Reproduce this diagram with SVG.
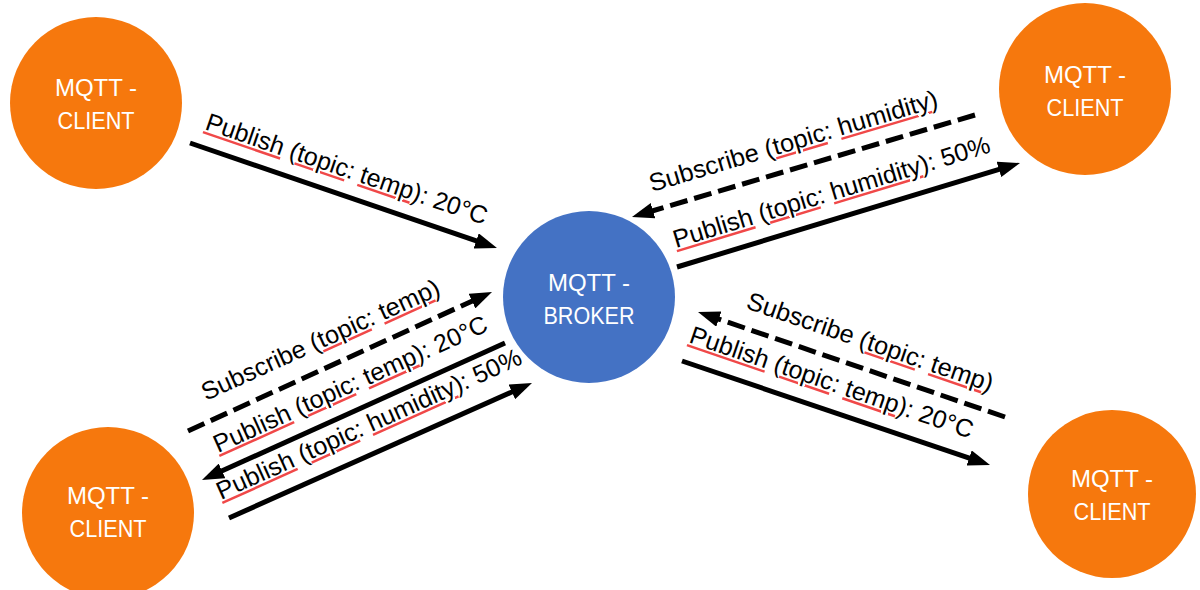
<svg xmlns="http://www.w3.org/2000/svg" width="1200" height="590" viewBox="0 0 1200 590">
<style>
.client{fill:#F6780D}
.broker{fill:#4472C4}
.nt{font-family:"Liberation Sans",Arial,sans-serif;font-size:24px;fill:#fff;text-anchor:middle}
.lb{font-family:"Liberation Sans",Arial,sans-serif;font-size:25px;fill:#000}
.sq{text-decoration:underline wavy;text-decoration-thickness:1px;fill:#F04848}
.sq tspan{fill:#000}
.ln{stroke:#000;stroke-width:5;fill:none;marker-end:url(#ah)}
.dash{stroke-dasharray:18 7}
</style>
<defs>
<marker id="ah" markerUnits="userSpaceOnUse" markerWidth="22" markerHeight="16" refX="1" refY="8" orient="auto" viewBox="0 0 22 16">
<path d="M0,0 L22,8 L0,16 z" fill="#000"/>
</marker>
</defs>
<rect width="1200" height="590" fill="#fff"/>
<g id="client-tl">
<circle class="client" cx="96" cy="103" r="86"/>
<text class="nt" x="96" y="96">MQTT -</text>
<text class="nt" x="96" y="129" textLength="77" lengthAdjust="spacingAndGlyphs">CLIENT</text>
</g>
<g id="client-tr">
<circle class="client" cx="1085" cy="89" r="86"/>
<text class="nt" x="1085" y="83">MQTT -</text>
<text class="nt" x="1085" y="116" textLength="77" lengthAdjust="spacingAndGlyphs">CLIENT</text>
</g>
<g id="broker">
<circle class="broker" cx="589" cy="297" r="86"/>
<text class="nt" x="589" y="291">MQTT -</text>
<text class="nt" x="589" y="324" textLength="91" lengthAdjust="spacingAndGlyphs">BROKER</text>
</g>
<g id="client-bl">
<circle class="client" cx="108" cy="513" r="86"/>
<text class="nt" x="108" y="504">MQTT -</text>
<text class="nt" x="108" y="537" textLength="77" lengthAdjust="spacingAndGlyphs">CLIENT</text>
</g>
<g id="client-br">
<circle class="client" cx="1112" cy="494" r="84"/>
<text class="nt" x="1112" y="487">MQTT -</text>
<text class="nt" x="1112" y="520" textLength="77" lengthAdjust="spacingAndGlyphs">CLIENT</text>
</g>
<g id="connectors">
<line class="ln" x1="190" y1="143" x2="477.1" y2="241.2"/>
<line class="ln dash" x1="975" y1="115" x2="652.1" y2="211"/>
<line class="ln" x1="677" y1="267" x2="999.9" y2="169.1"/>
<line class="ln dash" x1="188" y1="431" x2="472.9" y2="300.7"/>
<line class="ln" x1="505" y1="343" x2="221.1" y2="471.3"/>
<line class="ln" x1="229" y1="518" x2="512.8" y2="391.5"/>
<line class="ln dash" x1="1005" y1="417" x2="717.9" y2="318.8"/>
<line class="ln" x1="682" y1="361" x2="970.1" y2="458.3"/>
</g>
<g id="labels">
<text class="lb" transform="translate(204,129) rotate(18.9)" textLength="296" lengthAdjust="spacingAndGlyphs"><tspan class="sq"><tspan>Publish</tspan></tspan> (<tspan class="sq"><tspan>topic</tspan></tspan>: <tspan class="sq"><tspan>temp</tspan></tspan>): 20°C</text>
<text class="lb" transform="translate(652,192) rotate(-16.6)" textLength="300" lengthAdjust="spacingAndGlyphs">Subscribe (<tspan class="sq"><tspan>topic</tspan></tspan>: <tspan class="sq"><tspan>humidity</tspan></tspan>)</text>
<text class="lb" transform="translate(676,248) rotate(-16.9)" textLength="330" lengthAdjust="spacingAndGlyphs"><tspan class="sq"><tspan>Publish</tspan></tspan> (<tspan class="sq"><tspan>topic</tspan></tspan>: <tspan class="sq"><tspan>humidity</tspan></tspan>): 50%</text>
<text class="lb" transform="translate(206,401) rotate(-24.4)" textLength="259" lengthAdjust="spacingAndGlyphs">Subscribe (<tspan class="sq"><tspan>topic</tspan></tspan>: <tspan class="sq"><tspan>temp</tspan></tspan>)</text>
<text class="lb" transform="translate(218,453) rotate(-24.3)" textLength="298" lengthAdjust="spacingAndGlyphs"><tspan class="sq"><tspan>Publish</tspan></tspan> (<tspan class="sq"><tspan>topic</tspan></tspan>: <tspan class="sq"><tspan>temp</tspan></tspan>): 20°C</text>
<text class="lb" transform="translate(221,500) rotate(-24.3)" textLength="332" lengthAdjust="spacingAndGlyphs"><tspan class="sq"><tspan>Publish</tspan></tspan> (<tspan class="sq"><tspan>topic</tspan></tspan>: <tspan class="sq"><tspan>humidity</tspan></tspan>): 50%</text>
<text class="lb" transform="translate(745,308) rotate(18.9)" textLength="259" lengthAdjust="spacingAndGlyphs">Subscribe (<tspan class="sq"><tspan>topic</tspan></tspan>: <tspan class="sq"><tspan>temp</tspan></tspan>)</text>
<text class="lb" transform="translate(688,342) rotate(18.9)" textLength="298" lengthAdjust="spacingAndGlyphs"><tspan class="sq"><tspan>Publish</tspan></tspan> (<tspan class="sq"><tspan>topic</tspan></tspan>: <tspan class="sq"><tspan>temp</tspan></tspan>): 20°C</text>
</g>
</svg>
